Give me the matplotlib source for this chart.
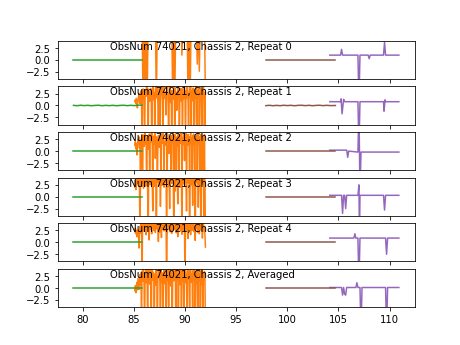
import numpy as np
import matplotlib
matplotlib.use('Agg')
import matplotlib.pyplot as plt

titles = ['ObsNum 74021, Chassis 2, Repeat 0',
          'ObsNum 74021, Chassis 2, Repeat 1',
          'ObsNum 74021, Chassis 2, Repeat 2',
          'ObsNum 74021, Chassis 2, Repeat 3',
          'ObsNum 74021, Chassis 2, Repeat 4',
          'ObsNum 74021, Chassis 2, Averaged']

# green band (flat, repeat 1 a bit noisy)
green_x = [79.1, 85.8]
green_flat = [0.0, 0.0]
green_nx = [79.1, 79.45, 79.8, 80.15, 80.5, 80.85, 81.2, 81.55, 81.9, 82.25,
            82.6, 82.95, 83.3, 83.65, 84.0, 84.35, 84.7, 85.05, 85.4, 85.8]
green_ny = [0.03, -0.04, 0.05, -0.02, 0.04, -0.05, 0.02, 0.05, -0.04, 0.03,
            -0.03, 0.04, -0.05, 0.02, 0.05, -0.03, 0.04, -0.02, 0.06, 0.08]

# brown band
brown_x = [97.9, 104.7]
brown_flat = [0.0, 0.0]
brown_nx = [97.9, 98.25, 98.6, 98.95, 99.3, 99.65, 100.0, 100.35, 100.7, 101.05,
            101.4, 101.75, 102.1, 102.45, 102.8, 103.15, 103.5, 103.85, 104.2, 104.7]
brown_ny = [-0.03, 0.04, -0.05, 0.03, -0.04, 0.05, -0.02, 0.04, -0.05, 0.03,
            0.05, -0.03, 0.04, -0.04, 0.02, 0.05, -0.03, 0.04, -0.02, 0.0]

# orange band
orange_x0 = np.linspace(85.1, 92.0, 70)   # repeat 0, 0.1 spacing
orange_x = np.linspace(85.1, 92.0, 139)   # others, 0.05 spacing
orange_rep0 = [9, 9, 9, 9, 9, 9, 9, 9, -9, 9, -9, 9, -9, 9, 9, 9, 9, 9, 9, 9,
               9, -9, 9, 9, 9, 9, 9, 9, 9, 9, 9, 9, 9, 9, 9, 9, 9, -9, 9, -9,
               9, 9, 9, 9, 9, 9, 1.0, 9, 9, 9, 9, 9, -9, 9, -9, 9, 9, 9, 9, 9,
               9, -0.9, 9, -2.4, 9, 9, 9, 9, 9, -9]
orange_rep1 = [0.8, 1.2, 0.4, 1.5, 0.2, -0.5, 0.9, 1.8, 2.6, 1.1, 0.4, 2.2, 3.1, 1.6, -9, 2.2, 3.5, 2.8, 1.0, -9,
               1.4, 3.2, 2.8, 4.5, 1.9, 3.6, -9, 3.0, 2.4, 0.9, 3.3, 3.6, 1.7, -9, 2.1, 3.3, 4.1, 1.2, 2.6, -9,
               2.7, 5.0, 1.6, 3.8, 2.4, 0.5, -9, 2.3, 3.7, -9, 1.1, 2.9, 3.4, 4.4, 0.7, -9, 2.5, 3.9, 1.5, 3.0,
               1.8, -2.0, 2.6, 3.2, 4.0, 1.9, -9, 1.5, 2.8, 4.2, 0.6, 3.1, -9, 2.0, 3.1, 1.3, 4.3, 2.7, -9, 3.5,
               1.9, 2.8, -1.0, 2.4, 3.0, 4.6, 1.2, -9, 1.7, 2.9, 3.6, 0.9, 3.4, -9, 2.2, 1.4, 3.3, 4.1, 2.0, -9,
               3.1, 1.6, 3.8, 2.5, 0.8, -9, 2.7, 3.9, 1.8, 4.5, -9, 2.3, 3.2, 1.0, 3.7, 2.6, -9, 3.4, 1.5, 4.0,
               2.2, -9, 3.0, 1.9, 3.6, 2.4, -9, 1.3, 3.8, 2.9, 0.7, -9, 3.3, 2.1, 4.2, 1.6, -9, 2.8, -9]
orange_rep2 = [1.2, 2.0, 0.5, 1.6, -0.8, 1.0, 2.4, 1.5, 3.0, 0.6, 2.2, -9, 1.8, 2.9, 3.5, -9, 2.2, 3.4, 1.0, 2.6,
               3.8, 1.5, 2.9, -9, 2.7, 3.2, 0.4, 2.9, 3.6, -9, 3.6, 1.9, 2.5, 4.0, 1.2, -9, 3.1, 1.4, 2.8, 3.9,
               -1.5, 2.3, 3.0, 1.8, -9, 1.7, 3.3, 2.1, 0.8, 2.6, 3.5, -9, 3.4, 1.6, 2.9, 3.7, 2.2, -9, 2.0, 1.2,
               3.1, 2.5, 3.9, -9, 3.6, 1.8, 2.4, -0.5, 3.0, 2.2, 3.3, -9, 1.5, 3.3, 2.7, 4.1, -9, 1.9, 3.5, 2.3,
               0.9, -9, 3.0, 1.1, 2.8, 3.6, -9, 2.4, 3.2, 1.7, 3.8, 2.0, -9, 2.9, 1.4, 3.4, 2.6, -2.0, 3.1, 2.2,
               3.7, -9, 1.8, 2.7, 3.5, 1.2, 3.0, -9, 2.5, 3.9, 1.6, 2.8, -9, 3.3, 2.1, 3.6, 0.9, -9, 2.4, 3.1,
               1.9, 3.4, -9, 2.6, 3.8, 1.5, 2.9, -9, 3.2, 2.0, 3.6, -9, 1.7, 3.0, 2.4, -9, 3.5, -9, -9]
orange_rep3 = [2.0, 3.5, 1.5, 2.8, 4.5, 2.8, 5.0, 3.3, 4.2, 1.8, -9, 3.9, 4.6, 2.6, 5.2, 3.4, 4.1, 1.8, 4.8, 3.0,
               4.5, 2.2, 5.1, 3.6, 4.0, 1.4, -9, 4.4, 3.7, 5.1, 2.5, 4.2, 3.0, 5.0, 2.8, -3.0, 3.6, 4.9, 2.2, 4.0,
               5.2, 3.1, -9, 3.8, 5.3, 3.1, 4.5, 2.4, 4.8, 3.5, -2.0, 3.9, 4.7, 2.4, 5.0, 3.5, 4.2, 2.0, 4.3, 3.7,
               3.0, 4.9, -9, 3.7, 4.4, 2.1, 4.8, 3.2, -2.5, 4.6, 3.3, 5.2, 2.8, 4.0, 3.4, 5.1, -9, 3.6, 4.8, 1.2,
               4.2, 3.9, 5.0, 2.6, -1.5, 4.5, 3.2, 5.0, 2.0, 4.3, 3.6, 4.9, -9, 3.8, 4.6, 2.7, 4.1, 5.2, 3.0, 4.4,
               2.3, -3.0, 4.0, 3.5, 5.1, 2.8, 4.7, -9, 3.3, 4.5, 2.5, 5.0, 3.9, -1.8, 4.2, 3.1, 4.8, 2.6, -9, 4.0,
               3.4, 5.1, 2.9, 4.6, -2.2, 3.7, 4.9, 2.2, 4.3, -9, 3.5, 5.0, 2.7, 4.1, 3.2, -9, 4.4, 3.0, -9]
orange_rep4 = [2.2, 3.0, 1.8, 2.5, 1.2, 2.0, 2.6, 1.5, -1.2, 2.6, 3.4, 1.9, 4.2, 2.8, -9, 3.1, 4.5, 2.4, 3.8, 5.0,
               2.9, 4.1, 1.6, 3.7, 4.8, 2.3, 3.5, 4.4, 0.5, 3.9, 2.8, 4.6, 3.2, 1.8, 4.0, 3.3, 4.7, 2.5, 3.6, 4.3,
               2.1, 4.5, 3.0, 4.9, 2.7, 3.8, 0.2, 4.4, 2.1, 3.5, 4.6, 3.1, 1.0, 4.2, 2.9, 3.7, 4.8, 2.4, 3.4, 4.1,
               2.6, 3.9, -9, 1.5, 3.2, 4.7, 2.8, 3.6, 4.0, 2.2, 3.8, 4.4, 1.9, 3.3, 4.6, 2.5, 3.0, 4.2, 2.7, 4.9,
               3.4, 2.0, 4.3, 3.7, 1.2, 4.5, 2.9, 3.9, 4.7, 2.4, 3.1, 4.0, 1.7, 4.4, 3.5, 2.6, 4.8, 3.2, -9, 3.8,
               4.1, 2.3, 3.6, 4.6, 0.8, 3.9, 2.8, 4.3, 3.1, 1.6, 4.5, 3.4, 2.5, 4.0, 3.7, 4.8, 2.2, 3.5, 0.4, 4.2,
               2.9, 3.8, 4.6, 2.1, 3.3, 4.4, 1.8, 3.7, 4.1, 2.6, 3.5, 4.7, 0.9, 3.2, 4.3, 2.4, 3.0, 1.5, -1.0]
orange_avg = [-0.6, 0.5, -1.0, 0.2, 1.2, -0.4, 2.0, 0.8, -0.3, 1.5, 2.8, 0.6, 3.2, -9, 3.5, 1.4, 4.2, 2.5, 0.9, -9,
              2.6, 3.9, 1.1, 4.4, 2.0, -9, 3.0, 4.6, 2.2, 0.8, 3.7, 1.9, -9, 2.4, 4.1, 1.6, 3.3, 2.8, -9, 2.9,
              0.6, 4.4, 3.1, 1.5, -9, 1.9, 3.6, 2.5, 4.3, 0.7, -9, 4.0, 1.3, 3.2, 2.2, -9, 2.7, 4.3, 0.9, 3.5,
              1.8, -9, 2.1, 3.8, 1.7, 4.2, -9, 3.0, 4.5, 2.3, 0.4, 3.4, 1.6, -9, 2.8, 4.0, 1.5, 3.6, 2.0, 4.4,
              -9, 3.2, 4.2, 1.8, 2.9, -9, 2.6, 3.9, 0.7, 2.2, 4.1, -9, 3.3, 1.4, 3.8, 2.4, -9, 3.5, 1.1, 4.3,
              2.7, 0.5, -9, 3.1, 4.0, 1.9, 3.6, -9, 2.3, 4.5, 1.2, 3.0, 2.5, -9, 3.7, 1.6, 4.2, 2.8, -9, 3.3,
              1.0, 3.9, 2.1, -9, 3.4, 4.4, 1.5, 2.9, -9, 3.6, 0.8, 4.1, 2.4, -9, 3.0, 1.7, 3.5, 2.2, -9]
orange_all = [orange_rep0, orange_rep1, orange_rep2, orange_rep3, orange_rep4, orange_avg]

# purple band (baseline + spikes)
purple_x0 = [104.15, 105.2, 105.3, 105.4, 106.9, 107.0, 107.1, 107.9, 108.0, 108.1, 109.4, 109.5, 109.6, 110.9]
purple_y0 = [1.0, 1.0, 2.2, 1.0, 1.0, -9, 1.0, 1.0, 0.25, 1.0, 1.0, 3.7, 1.0, 1.0]
purple_x1 = [104.15, 105.2, 105.25, 105.35, 105.5, 105.6, 106.9, 107.0, 107.1, 109.4, 109.45, 109.55, 109.6, 110.9]
purple_y1 = [0.8, 0.8, 1.4, -1.75, 1.3, 0.8, 0.8, -9, 0.8, 0.8, -1.2, 1.2, 0.8, 0.8]
purple_x2 = [104.15, 105.8, 105.9, 106.0, 106.9, 107.0, 107.1, 107.2, 110.9]
purple_y2 = [0.2, 0.2, -1.3, 0.0, -0.2, 9, -9, -0.2, -0.2]
purple_x3 = [104.15, 105.3, 105.4, 105.5, 105.6, 105.7, 105.8, 106.9, 107.0, 107.05, 107.1, 109.4, 109.5, 109.6, 110.9]
purple_y3 = [0.3, 0.3, -3.5, 0.3, 0.3, -2.5, 0.3, 0.3, 2.5, -9, 0.3, 0.3, -2.8, 0.3, 0.3]
purple_x4 = [104.15, 106.5, 106.6, 106.7, 106.9, 107.0, 107.1, 109.6, 109.7, 109.8, 110.9]
purple_y4 = [0.9, 0.9, 1.8, 0.9, 0.9, -9, 0.9, 0.9, -2.5, 0.9, 0.9]
purple_x5 = [104.15, 105.3, 105.4, 105.5, 105.6, 105.7, 105.8, 106.7, 106.8, 106.9, 107.1, 107.2, 107.3, 109.6, 109.7, 109.8, 110.9]
purple_y5 = [0.1, 0.1, -1.5, 0.1, -1.3, -1.5, 0.1, 0.1, 1.1, 0.1, 0.1, -9, 0.1, 0.1, -9, 0.1, 0.1]
purple_xs = [purple_x0, purple_x1, purple_x2, purple_x3, purple_x4, purple_x5]
purple_ys = [purple_y0, purple_y1, purple_y2, purple_y3, purple_y4, purple_y5]

fig, axes = plt.subplots(6, 1, sharex=True, figsize=(6.4, 4.8), dpi=72)

for i, ax in enumerate(axes):
    ox = orange_x0 if i == 0 else orange_x
    ax.plot(ox, orange_all[i], color='tab:orange')
    if i == 1:
        ax.plot(green_nx, green_ny, color='tab:green')
    else:
        ax.plot(green_x, green_flat, color='tab:green')
    ax.plot(purple_xs[i], purple_ys[i], color='tab:purple')
    if i == 1:
        ax.plot(brown_nx, brown_ny, color='tab:brown')
    else:
        ax.plot(brown_x, brown_flat, color='tab:brown')
    ax.set_ylim(-4, 4)
    ax.set_yticks([-2.5, 0.0, 2.5])
    ax.text(0.147, 0.99, titles[i], transform=ax.transAxes, ha='left', va='top')

axes[-1].set_xlim(77.55, 112.45)
axes[-1].set_xticks([80, 85, 90, 95, 100, 105, 110])

fig.savefig('out.png', dpi=72)
